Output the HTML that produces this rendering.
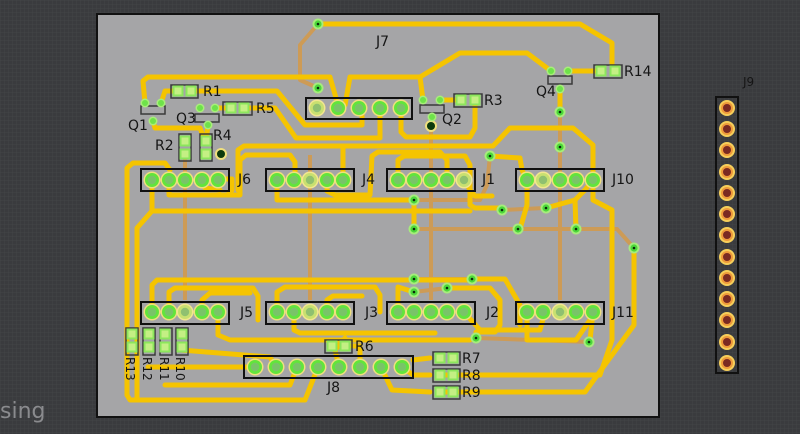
<!DOCTYPE html>
<html><head><meta charset="utf-8"><style>
html,body{margin:0;padding:0;background:#3a3b3e;}
svg{display:block}
text{font-family:"DejaVu Sans","Liberation Sans",sans-serif;fill:#151515;font-size:14px}
</style></head><body>
<svg width="800" height="434" viewBox="0 0 800 434" xmlns="http://www.w3.org/2000/svg">
<defs>
<pattern id="g" width="4" height="4" patternUnits="userSpaceOnUse"><rect width="4" height="4" fill="#3a3b3e"/><path d="M0 0H4M0 0V4" stroke="#434447" stroke-width="1"/></pattern>
<g id="pin"><circle r="8.5" fill="#efe07e"/><circle r="7" fill="#62e43c"/><circle r="4.2" fill="#79c468"/></g>
<g id="pinY"><circle r="8.5" fill="#f3e690"/><circle r="7" fill="#c8e070"/><circle r="4.2" fill="#8fc070"/></g>
<g id="via"><circle r="5.5" fill="#a6ec7c"/><circle r="3.6" fill="#4bd83a"/><circle r="1.3" fill="#0a2a0a"/></g>
<g id="sp"><circle r="4.5" fill="#a8ee7a"/><circle r="3" fill="#6ee24a"/></g>
<g id="pad"><rect x="-5.5" y="-5.5" width="11" height="11" fill="#8ce65c"/><rect x="-3.5" y="-3.5" width="7" height="7" fill="#c4ef84"/></g>
<g id="jp"><circle r="8" fill="#f6cf5a"/><circle r="6" fill="#ee9a3a"/><circle r="4" fill="#7a2a22"/></g>
</defs>
<rect width="800" height="434" fill="url(#g)"/>
<rect x="97" y="14" width="562" height="403" fill="#a5a5a7" stroke="#111" stroke-width="2"/>
<text x="0" y="418" style="font-size:22px;fill:#8a8b8e">sing</text>

<g fill="none" stroke="#d29a4e" stroke-width="4" stroke-linejoin="round" opacity="0.9">
<polyline points="318,24 300,45 300,80 318,88"/>
<polyline points="185,155 185,300"/>
<polyline points="310,155 310,300"/>
<polyline points="431,126 431,300"/>
<polyline points="560,112 560,300"/>
<polyline points="414,200 480,200 487,185 490,156"/>
<polyline points="502,210 545,208"/>
<polyline points="414,229 576,229 617,229 634,248"/>
<polyline points="414,279 472,279"/>
<polyline points="414,292 447,288"/>
<polyline points="476,338 590,342"/>
</g>

<g fill="none" stroke="#f5c400" stroke-width="5" stroke-linejoin="round" stroke-linecap="round">
<polyline points="318,24 580,24 612,43 612,71"/>
<polyline points="145,103 143,81 148,77 330,77 338,105"/>
<polyline points="345,105 350,77 420,77 460,53 527,53 551,71"/>
<polyline points="420,77 423,100"/>
<polyline points="440,100 461,100"/>
<polyline points="568,71 602,71"/>
<polyline points="560,89 560,112"/>
<polyline points="161,103 165,91 178,91"/>
<polyline points="191,91 277,91 305,125 362,125 362,110"/>
<polyline points="215,108 230,108"/>
<polyline points="245,108 275,108 296,138 380,138 380,108"/>
<polyline points="401,108 401,132 406,137 470,137 475,128 475,100"/>
<polyline points="208,125 206,141"/>
<polyline points="153,121 155,128 200,128 205,141"/>
<polyline points="238,190 238,150 244,146 493,146 510,128 573,128 593,145 593,179"/>
<polyline points="343,179 343,146"/>
<polyline points="127,395 127,168 133,163 165,163 170,170"/>
<polyline points="152,180 152,211 470,211"/>
<polyline points="152,211 137,228 137,400"/>
<polyline points="218,179 232,179 232,190 229,193"/>
<polyline points="169,180 169,195 240,195 240,160 246,155 290,155 295,162 295,180"/>
<polyline points="202,180 205,188 220,190"/>
<polyline points="327,180 327,191 335,195 370,195 372,156 378,152 440,152 447,160 447,180"/>
<polyline points="277,180 277,200 410,200"/>
<polyline points="398,180 398,160 404,156 465,156 470,165 470,205 475,208 502,208"/>
<polyline points="464,179 470,190 475,196 492,196"/>
<polyline points="490,156 520,158 522,170 527,180"/>
<polyline points="414,229 414,200"/>
<polyline points="527,180 527,205 520,229"/>
<polyline points="546,208 575,200 576,229"/>
<polyline points="575,200 585,190 593,180"/>
<polyline points="593,180 593,200 612,210 612,340 600,375 444,375"/>
<polyline points="634,248 634,325 612,355 585,392 444,392"/>
<polyline points="152,312 152,285 157,280 470,280 472,279 505,279 520,305 520,325"/>
<polyline points="169,312 169,292 175,288 253,288 258,296 258,320"/>
<polyline points="202,312 202,300 210,293 250,293"/>
<polyline points="218,312 218,335 230,340 470,340"/>
<polyline points="277,312 277,292 285,287 375,287 380,295 380,312"/>
<polyline points="294,312 294,330 300,333 435,333"/>
<polyline points="327,312 327,300 333,296 362,296"/>
<polyline points="398,312 398,287 414,292"/>
<polyline points="447,288 490,288 500,300 500,325 495,332 476,332"/>
<polyline points="464,312 480,330 540,330 545,312"/>
<polyline points="527,312 527,340 576,340 590,320"/>
<polyline points="593,312 590,340"/>
<polyline points="181,345 181,350 270,357 276,367"/>
<polyline points="148,367 250,367"/>
<polyline points="165,385 290,385 297,367"/>
<polyline points="127,395 130,400 305,400 318,367"/>
<polyline points="345,346 360,346 360,367"/>
<polyline points="339,367 335,350 345,338"/>
<polyline points="381,367 392,390 430,392"/>
<polyline points="402,367 413,375 430,375"/>
<polyline points="413,360 430,358"/>
</g>

<g>
<use href="#via" x="318" y="24"/><use href="#via" x="318" y="88"/>
<use href="#via" x="560" y="112"/><use href="#via" x="560" y="147"/>
<use href="#via" x="490" y="156"/><use href="#via" x="414" y="200"/>
<use href="#via" x="502" y="210"/><use href="#via" x="546" y="208"/>
<use href="#via" x="414" y="229"/><use href="#via" x="518" y="229"/>
<use href="#via" x="576" y="229"/><use href="#via" x="634" y="248"/>
<use href="#via" x="414" y="279"/><use href="#via" x="414" y="292"/>
<use href="#via" x="472" y="279"/><use href="#via" x="447" y="288"/>
<use href="#via" x="476" y="338"/><use href="#via" x="589" y="342"/>
</g>
<circle cx="221" cy="154" r="6" fill="#efe07e"/><circle cx="221" cy="154" r="4" fill="#0c3a0c"/>
<circle cx="431" cy="126" r="6" fill="#efe07e"/><circle cx="431" cy="126" r="4" fill="#0c3a0c"/>

<g fill="none" stroke="#111" stroke-width="2">
<rect x="141" y="169" width="88" height="22"/><rect x="266" y="169" width="88" height="22"/>
<rect x="387" y="169" width="88" height="22"/><rect x="516" y="169" width="88" height="22"/>
<rect x="141" y="302" width="88" height="22"/><rect x="266" y="302" width="88" height="22"/>
<rect x="387" y="302" width="88" height="22"/><rect x="516" y="302" width="88" height="22"/>
<rect x="306" y="98" width="106" height="21"/><rect x="244" y="356" width="169" height="22"/>
<rect x="716" y="97" width="22" height="276"/>
</g>
<g>
<use href="#pin" x="152" y="180"/><use href="#pin" x="169" y="180"/><use href="#pin" x="185" y="180"/><use href="#pin" x="202" y="180"/><use href="#pin" x="218" y="180"/>
<use href="#pin" x="277" y="180"/><use href="#pin" x="294" y="180"/><use href="#pinY" x="310" y="180"/><use href="#pin" x="327" y="180"/><use href="#pin" x="343" y="180"/>
<use href="#pin" x="398" y="180"/><use href="#pin" x="414" y="180"/><use href="#pin" x="431" y="180"/><use href="#pin" x="447" y="180"/><use href="#pinY" x="464" y="180"/>
<use href="#pin" x="527" y="180"/><use href="#pinY" x="543" y="180"/><use href="#pin" x="560" y="180"/><use href="#pin" x="576" y="180"/><use href="#pin" x="593" y="180"/>
<use href="#pin" x="152" y="312"/><use href="#pin" x="169" y="312"/><use href="#pinY" x="185" y="312"/><use href="#pin" x="202" y="312"/><use href="#pin" x="218" y="312"/>
<use href="#pin" x="277" y="312"/><use href="#pin" x="294" y="312"/><use href="#pinY" x="310" y="312"/><use href="#pin" x="327" y="312"/><use href="#pin" x="343" y="312"/>
<use href="#pin" x="398" y="312"/><use href="#pin" x="414" y="312"/><use href="#pin" x="431" y="312"/><use href="#pin" x="447" y="312"/><use href="#pin" x="464" y="312"/>
<use href="#pin" x="527" y="312"/><use href="#pin" x="543" y="312"/><use href="#pinY" x="560" y="312"/><use href="#pin" x="576" y="312"/><use href="#pin" x="593" y="312"/>
<use href="#pinY" x="317" y="108"/><use href="#pin" x="338" y="108"/><use href="#pin" x="359" y="108"/><use href="#pin" x="380" y="108"/><use href="#pin" x="401" y="108"/>
<use href="#pin" x="255" y="367"/><use href="#pin" x="276" y="367"/><use href="#pin" x="297" y="367"/><use href="#pin" x="318" y="367"/><use href="#pin" x="339" y="367"/><use href="#pin" x="360" y="367"/><use href="#pin" x="381" y="367"/><use href="#pin" x="402" y="367"/>
</g>
<g>
<use href="#jp" x="727" y="108"/><use href="#jp" x="727" y="129"/><use href="#jp" x="727" y="150"/><use href="#jp" x="727" y="172"/><use href="#jp" x="727" y="193"/><use href="#jp" x="727" y="214"/><use href="#jp" x="727" y="235"/><use href="#jp" x="727" y="257"/><use href="#jp" x="727" y="278"/><use href="#jp" x="727" y="299"/><use href="#jp" x="727" y="320"/><use href="#jp" x="727" y="342"/><use href="#jp" x="727" y="363"/>
</g>

<g fill="none" stroke="#3a3a3a" stroke-width="1.5">
<rect x="171" y="85" width="27" height="13"/><rect x="223" y="102" width="29" height="13"/>
<rect x="454" y="94" width="28" height="13"/><rect x="594" y="65" width="28" height="13"/>
<rect x="179" y="134" width="12" height="27"/><rect x="200" y="134" width="12" height="27"/>
<rect x="325" y="340" width="27" height="13"/>
<rect x="433" y="352" width="27" height="13"/><rect x="433" y="369" width="27" height="13"/><rect x="433" y="386" width="27" height="13"/>
<rect x="126" y="328" width="12" height="27"/><rect x="143" y="328" width="12" height="27"/><rect x="160" y="328" width="12" height="27"/><rect x="176" y="328" width="12" height="27"/>
<rect x="141" y="106" width="24" height="8"/><rect x="195" y="114" width="24" height="8"/><rect x="420" y="105" width="24" height="8"/><rect x="548" y="76" width="24" height="8"/>
</g>
<g>
<use href="#pad" x="178" y="91"/><use href="#pad" x="191" y="91"/>
<use href="#pad" x="231" y="108"/><use href="#pad" x="244" y="108"/>
<use href="#pad" x="461" y="100"/><use href="#pad" x="475" y="100"/>
<use href="#pad" x="601" y="71"/><use href="#pad" x="615" y="71"/>
<use href="#pad" x="185" y="141"/><use href="#pad" x="185" y="154"/>
<use href="#pad" x="206" y="141"/><use href="#pad" x="206" y="154"/>
<use href="#pad" x="332" y="346"/><use href="#pad" x="345" y="346"/>
<use href="#pad" x="440" y="358"/><use href="#pad" x="453" y="358"/>
<use href="#pad" x="440" y="375"/><use href="#pad" x="453" y="375"/>
<use href="#pad" x="440" y="392"/><use href="#pad" x="453" y="392"/>
<use href="#pad" x="132" y="334"/><use href="#pad" x="132" y="347"/>
<use href="#pad" x="149" y="334"/><use href="#pad" x="149" y="347"/>
<use href="#pad" x="165" y="334"/><use href="#pad" x="165" y="347"/>
<use href="#pad" x="182" y="334"/><use href="#pad" x="182" y="347"/>
<use href="#sp" x="145" y="103"/><use href="#sp" x="161" y="103"/><use href="#sp" x="153" y="121"/>
<use href="#sp" x="200" y="108"/><use href="#sp" x="215" y="108"/><use href="#sp" x="208" y="125"/>
<use href="#sp" x="423" y="100"/><use href="#sp" x="440" y="100"/><use href="#sp" x="432" y="117"/>
<use href="#sp" x="551" y="71"/><use href="#sp" x="568" y="71"/><use href="#sp" x="560" y="89"/>
</g>

<g>
<text x="376" y="46">J7</text><text x="743" y="86" style="font-size:12px">J9</text>
<text x="203" y="96">R1</text><text x="256" y="113">R5</text><text x="484" y="105">R3</text><text x="624" y="76">R14</text>
<text x="128" y="130">Q1</text><text x="176" y="123">Q3</text><text x="442" y="124">Q2</text><text x="536" y="96">Q4</text>
<text x="155" y="150">R2</text><text x="213" y="140">R4</text>
<text x="238" y="184">J6</text><text x="362" y="184">J4</text><text x="482" y="184">J1</text><text x="612" y="184">J10</text>
<text x="240" y="317">J5</text><text x="365" y="317">J3</text><text x="486" y="317">J2</text><text x="612" y="317">J11</text>
<text x="355" y="351">R6</text><text x="327" y="392">J8</text>
<text x="462" y="363">R7</text><text x="462" y="380">R8</text><text x="462" y="397">R9</text>
<text transform="translate(126,357) rotate(90)" style="font-size:12px">R13</text>
<text transform="translate(143,357) rotate(90)" style="font-size:12px">R12</text>
<text transform="translate(160,357) rotate(90)" style="font-size:12px">R11</text>
<text transform="translate(176,357) rotate(90)" style="font-size:12px">R10</text>
</g>
</svg>
</body></html>
